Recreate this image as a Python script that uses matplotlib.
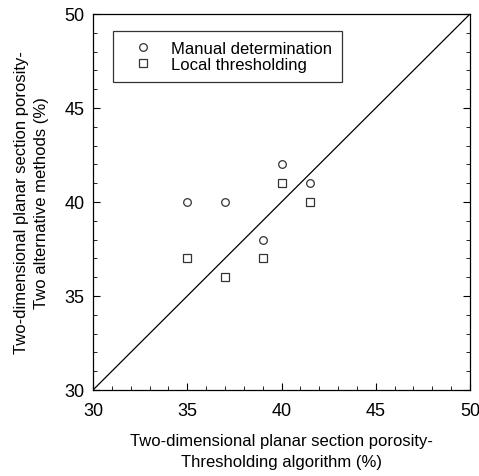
import matplotlib
matplotlib.use("Agg")
import matplotlib.pyplot as plt
from matplotlib.ticker import MultipleLocator

plt.rcParams['font.family'] = ['Liberation Sans', 'DejaVu Sans']

# porosity from thresholding algorithm (%)
x_manual = [35, 37, 39, 40, 41.5]
y_manual = [40, 40, 38, 42, 41]
x_local = [35, 37, 39, 40, 41.5]
y_local = [37, 36, 37, 41, 40]

fig = plt.figure(figsize=(4.79, 4.77), dpi=100)
ax = fig.add_axes([93 / 479, 1 - 391 / 477, 377 / 479, 376 / 477])

ax.plot([30, 50], [30, 50], color="black", lw=0.9)
ax.plot(x_manual, y_manual, "o", mfc="white", mec="#333333", ms=5.5, mew=0.9,
        label="Manual determination")
ax.plot(x_local, y_local, "s", mfc="white", mec="#333333", ms=5.5, mew=0.9,
        label="Local thresholding")

ax.set_xlim(30, 50)
ax.set_ylim(30, 50)
ax.xaxis.set_major_locator(MultipleLocator(5))
ax.yaxis.set_major_locator(MultipleLocator(5))
ax.xaxis.set_minor_locator(MultipleLocator(1))
ax.yaxis.set_minor_locator(MultipleLocator(1))
ax.tick_params(which="both", direction="in", top=False, right=True, labelsize=13)
ax.tick_params(axis="x", which="major", length=5, pad=9)
ax.tick_params(axis="y", which="major", length=5, pad=6)
ax.tick_params(which="minor", length=3)
for s in ax.spines.values():
    s.set_linewidth(0.9)

ax.set_xlabel("Two-dimensional planar section porosity-\nThresholding algorithm (%)",
              fontsize=12, labelpad=10, linespacing=1.45)
ax.set_ylabel("Two-dimensional planar section porosity-\nTwo alternative methods (%)",
              fontsize=12, labelpad=11, linespacing=1.45)

leg = ax.legend(loc="upper left", bbox_to_anchor=(0.053, 0.955), fontsize=12,
                frameon=True, fancybox=False, edgecolor="black",
                handletextpad=0.5, borderpad=0.6, labelspacing=0.05,
                handlelength=2.4, borderaxespad=0)
leg.get_frame().set_linewidth(0.9)

fig.savefig("out.png", dpi=100)
